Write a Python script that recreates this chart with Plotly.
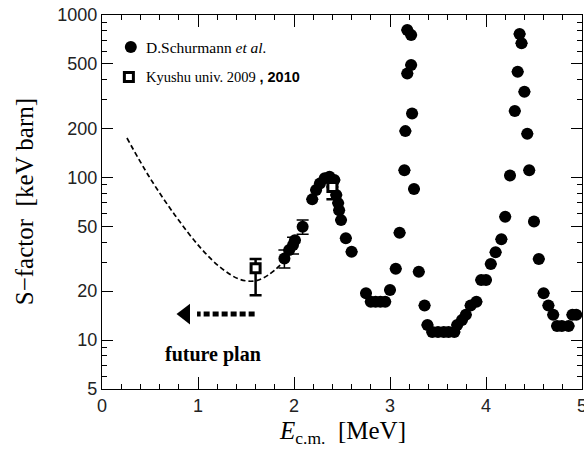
import numpy as np
import plotly.graph_objects as go

# S-factor measurements (Schurmann et al.)
sch_e = [1.90, 1.95, 1.99, 2.01, 2.09, 2.19, 2.23, 2.27, 2.32, 2.37, 2.42, 2.44, 2.46, 2.47,
         2.49, 2.54, 2.60, 2.75, 2.80, 2.85, 2.90, 2.95, 3.00, 3.06, 3.10, 3.15, 3.16, 3.18,
         3.18, 3.22, 3.22, 3.23, 3.25, 3.30, 3.36, 3.39, 3.44, 3.50, 3.56, 3.61, 3.67, 3.70,
         3.75, 3.79, 3.84, 3.90, 3.95, 4.00, 4.05, 4.10, 4.16, 4.20, 4.25, 4.30, 4.33, 4.35,
         4.37, 4.40, 4.43, 4.45, 4.50, 4.55, 4.60, 4.65, 4.70, 4.74, 4.79, 4.86, 4.90, 4.94]
sch_s = [31.8, 35.8, 38.4, 41.2, 49.8, 73.4, 83.8, 92.0, 98.9, 101.0, 96.6, 78.0, 69.6, 63.0,
         54.7, 42.3, 34.9, 19.4, 17.2, 17.2, 17.2, 17.2, 20.3, 27.5, 45.7, 111.0, 193.0, 437.0,
         809.0, 754.0, 492.0, 248.0, 84.9, 26.3, 16.3, 12.4, 11.2, 11.2, 11.2, 11.2, 11.2, 12.4,
         13.3, 14.3, 16.3, 17.2, 23.4, 23.4, 29.4, 34.7, 41.7, 57.4, 103.0, 257.0, 448.0, 764.0,
         670.0, 337.0, 186.0, 111.0, 53.7, 31.5, 19.4, 16.3, 14.3, 12.2, 12.2, 12.2, 14.3, 14.3]
# error bars shown only on the low-energy points
sch_err = [4.0, 0, 4.5, 0, 5.0] + [0] * (len(sch_e) - 5)

# Kyushu univ. 2009, 2010
kyu_e = [1.60, 2.40]
kyu_s = [27.7, 87.4]
kyu_err_up = [3.8, 0.0]
kyu_err_dn = [8.8, 14.0]

# theoretical extrapolation (dashed)
th_e = [0.26, 0.50, 0.76, 1.02, 1.23, 1.43, 1.59, 1.73, 1.88]
th_s = [175.0, 99.3, 58.7, 37.3, 28.1, 23.7, 23.1, 25.1, 29.8]

# future-plan arrow (energy span and level)
arrow_e = [1.59, 0.99]
arrow_head_e = 0.87
arrow_s = 14.45
plan_label_e = 1.16
plan_label_s = 8.1

# legend keys
legend_key_e = [0.30, 0.28]
legend_key_s = [635.0, 415.0]

x_ticks = [0, 1, 2, 3, 4, 5]
y_ticks = [5, 10, 20, 50, 100, 200, 500, 1000]
y_minor = [6, 7, 8, 9, 30, 40, 60, 70, 80, 90, 300, 400, 600, 700, 800, 900]

SERIF = "Liberation Serif"
SANS = "Liberation Sans"
fig = go.Figure()

fig.add_trace(go.Scatter(
    x=th_e, y=th_s, mode="lines", line=dict(color="black", width=1.7, dash="5px,3px", shape="spline"),
    showlegend=False, hoverinfo="skip"))

fig.add_trace(go.Scatter(
    x=sch_e, y=sch_s, mode="markers",
    marker=dict(symbol="circle", size=12, color="black"),
    error_y=dict(type="data", array=sch_err, color="black", thickness=1.5, width=6),
    showlegend=False))

fig.add_trace(go.Scatter(
    x=kyu_e, y=kyu_s, mode="markers",
    marker=dict(symbol="square", size=9, color="white", line=dict(color="black", width=3)),
    error_y=dict(type="data", symmetric=False, array=kyu_err_up, arrayminus=kyu_err_dn,
                 color="black", thickness=2.5, width=6),
    showlegend=False))

# arrow shaft and head
fig.add_trace(go.Scatter(
    x=arrow_e, y=[arrow_s, arrow_s], mode="lines",
    line=dict(color="black", width=5, dash="6px,3px"), showlegend=False, hoverinfo="skip"))
fig.add_trace(go.Scatter(
    x=[arrow_head_e], y=[arrow_s], mode="markers",
    marker=dict(symbol="triangle-left", size=18, color="black"), showlegend=False, hoverinfo="skip"))

# legend keys
fig.add_trace(go.Scatter(
    x=[legend_key_e[0]], y=[legend_key_s[0]], mode="markers",
    marker=dict(symbol="circle", size=12, color="black"), showlegend=False, hoverinfo="skip"))
fig.add_trace(go.Scatter(
    x=[legend_key_e[1]], y=[legend_key_s[1]], mode="markers",
    marker=dict(symbol="square", size=9, color="white", line=dict(color="black", width=3)),
    showlegend=False, hoverinfo="skip"))

fig.add_annotation(
    x=legend_key_e[0] + 0.14, y=np.log10(legend_key_s[0]), xref="x", yref="y",
    xanchor="left", yanchor="middle", showarrow=False,
    text="D.Schurmann <i>et al.</i>", font=dict(family=SERIF, size=15.5, color="black"))
fig.add_annotation(
    x=legend_key_e[1] + 0.16, y=np.log10(legend_key_s[1]), xref="x", yref="y",
    xanchor="left", yanchor="middle", showarrow=False,
    text="Kyushu univ. 2009 <span style='font-family:Liberation Sans'><b>, 2010</b></span>",
    font=dict(family=SERIF, size=14.5, color="black"))

fig.add_annotation(
    x=plan_label_e, y=np.log10(plan_label_s), xref="x", yref="y", showarrow=False,
    xanchor="center", yanchor="middle",
    text="<b>future plan</b>", font=dict(family=SERIF, size=20, color="black"))

fig.add_annotation(
    x=0.5, y=-0.115, xref="paper", yref="paper", xanchor="center", yanchor="middle", showarrow=False,
    text="<i>E</i><sub>c.m.</sub>  [MeV]", font=dict(family=SERIF, size=25, color="black"))
fig.add_annotation(
    x=-0.162, y=0.5, xref="paper", yref="paper", xanchor="center", yanchor="middle",
    textangle=-90, showarrow=False,
    text="S\u2212factor  [keV barn]", font=dict(family=SERIF, size=25, color="black"))

axis_common = dict(
    showline=True, linecolor="black", linewidth=1.3, mirror="allticks",
    ticks="inside", tickcolor="black", tickwidth=1.2, showgrid=False, zeroline=False,
    automargin=False, tickfont=dict(family=SANS, size=18, color="#222"),
)

fig.update_xaxes(
    range=[0, 5], tickvals=x_ticks, ticklen=12, ticklabeloverflow="allow",
    minor=dict(dtick=0.2, ticks="inside", ticklen=5, tickcolor="black", tickwidth=1.1, showgrid=False),
    **axis_common)
fig.update_yaxes(
    type="log", range=[np.log10(5), 3], tickvals=y_ticks, ticktext=[str(v) for v in y_ticks],
    ticklen=11,
    minor=dict(tickvals=y_minor, ticks="inside", ticklen=5, tickcolor="black", tickwidth=1.1, showgrid=False),
    **axis_common)

fig.update_layout(
    width=584, height=450, margin=dict(l=102, r=2, t=15, b=61),
    plot_bgcolor="white", paper_bgcolor="white", showlegend=False)

fig.write_html("out.html")
